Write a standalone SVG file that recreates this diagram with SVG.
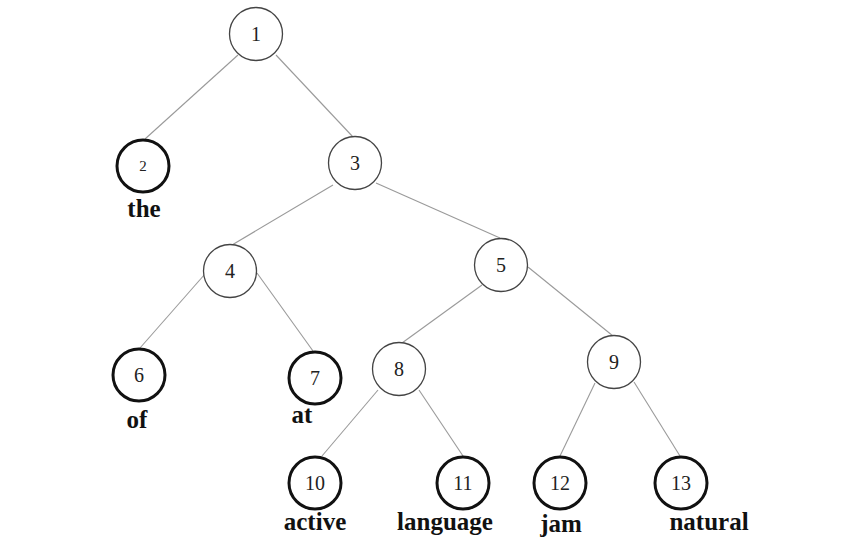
<svg xmlns="http://www.w3.org/2000/svg" width="859" height="560" viewBox="0 0 859 560">
<style>
.edge{stroke:#9a9a9a;stroke-width:1.1;fill:none}
.inner{fill:#fff;stroke:#444;stroke-width:1.3}
.leaf{fill:#fff;stroke:#111;stroke-width:3}
.num{font-family:"Liberation Serif","Times New Roman",serif;font-size:20px;fill:#222;text-anchor:middle}
.word{font-family:"Liberation Serif","Times New Roman",serif;font-size:25px;font-weight:bold;fill:#111;text-anchor:middle}
</style>
<rect width="859" height="560" fill="#fff"/>
<g id="connectors">
<line class="edge" x1="238" y1="55" x2="145" y2="139"/>
<line class="edge" x1="276" y1="55" x2="353" y2="137"/>
<line class="edge" x1="333" y1="185" x2="232" y2="245"/>
<line class="edge" x1="376" y1="183" x2="500" y2="238"/>
<line class="edge" x1="205" y1="274" x2="140" y2="348"/>
<line class="edge" x1="257" y1="273" x2="313" y2="351"/>
<line class="edge" x1="482" y1="285" x2="402" y2="343"/>
<line class="edge" x1="528" y1="267" x2="613" y2="336"/>
<line class="edge" x1="378" y1="390" x2="322" y2="456"/>
<line class="edge" x1="419" y1="390" x2="463" y2="456"/>
<line class="edge" x1="595" y1="383" x2="560" y2="456"/>
<line class="edge" x1="634" y1="382" x2="680" y2="456"/>
</g>
<g id="n1"><circle class="inner" cx="256" cy="34" r="26.5"/><text class="num" x="256" y="41">1</text></g>
<g id="n2"><circle class="leaf" cx="143" cy="166" r="26"/><text class="num" x="143" y="171" style="font-size:15px">2</text><text class="word" x="144" y="217">the</text></g>
<g id="n3"><circle class="inner" cx="355" cy="163" r="26.5"/><text class="num" x="355" y="170">3</text></g>
<g id="n4"><circle class="inner" cx="230" cy="271" r="26.5"/><text class="num" x="230" y="278">4</text></g>
<g id="n5"><circle class="inner" cx="501" cy="265" r="26.5"/><text class="num" x="501" y="272">5</text></g>
<g id="n6"><circle class="leaf" cx="139" cy="375" r="26"/><text class="num" x="139" y="382">6</text><text class="word" x="137" y="428">of</text></g>
<g id="n7"><circle class="leaf" cx="315" cy="378" r="26"/><text class="num" x="315" y="385">7</text><text class="word" x="302" y="423">at</text></g>
<g id="n8"><circle class="inner" cx="399" cy="369" r="26.5"/><text class="num" x="399" y="376">8</text></g>
<g id="n9"><circle class="inner" cx="614" cy="362" r="26.5"/><text class="num" x="614" y="369">9</text></g>
<g id="n10"><circle class="leaf" cx="315" cy="483" r="26"/><text class="num" x="315" y="490">10</text><text class="word" x="315" y="530">active</text></g>
<g id="n11"><circle class="leaf" cx="463" cy="483" r="26"/><text class="num" x="463" y="490">11</text><text class="word" x="445" y="530">language</text></g>
<g id="n12"><circle class="leaf" cx="560" cy="483" r="26"/><text class="num" x="560" y="490">12</text><text class="word" x="561" y="532">jam</text></g>
<g id="n13"><circle class="leaf" cx="681" cy="483" r="26"/><text class="num" x="681" y="490">13</text><text class="word" x="709" y="530">natural</text></g>
</svg>
